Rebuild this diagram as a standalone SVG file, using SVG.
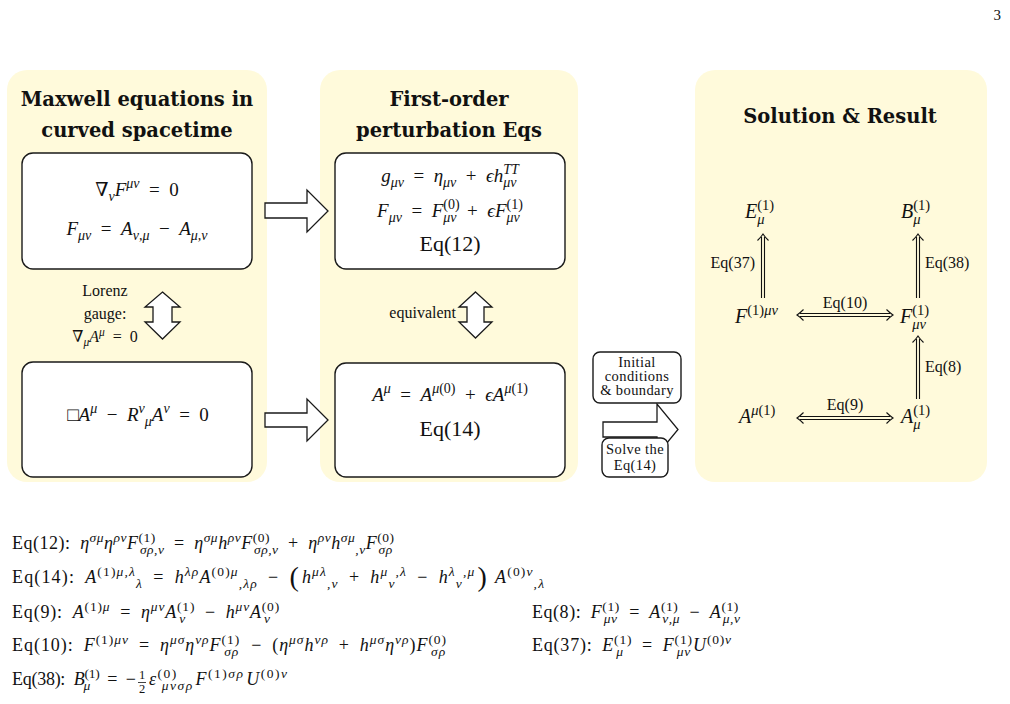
<svg xmlns="http://www.w3.org/2000/svg" width="1010" height="704" viewBox="0 0 1010 704">
<style>
.panel{fill:#fffadb;stroke:none}
.box{fill:#fff;stroke:#1a1a1a;stroke-width:1.4}
.blk{fill:#fff;stroke:#1a1a1a;stroke-width:1.3}
.title{font-family:"DejaVu Serif",serif;font-weight:bold;font-size:19.5px;fill:#111;text-anchor:middle}
.m{font-family:"Liberation Serif","DejaVu Serif",serif;font-size:19px;fill:#111}
.c{text-anchor:middle}
.i{font-style:italic}
.sp{font-size:14px;baseline-shift:8px}
.sb{font-size:14px;baseline-shift:-5px}
.eq{font-size:22px}
.lbl{font-family:"Liberation Serif","DejaVu Serif",serif;font-size:16px;fill:#111}
.n{font-family:"Liberation Serif","DejaVu Serif",serif;font-size:20px;fill:#111}
.sp2{font-size:14.5px;baseline-shift:8px}
.sb2{font-size:14.5px;baseline-shift:-5.5px}
.dl{stroke:#111;stroke-width:1.1;fill:none}
.small{font-family:"Liberation Serif","DejaVu Serif",serif;font-size:14.5px;letter-spacing:0.4px;fill:#111;text-anchor:middle}
.be{font-family:"Liberation Serif","DejaVu Serif",serif;font-size:18px;fill:#111}
.sp3{font-size:13.5px;baseline-shift:7.5px}
.sb3{font-size:13.5px;baseline-shift:-4.5px}
.fr{font-family:"Liberation Serif","DejaVu Serif",serif;font-size:12.5px;fill:#111;text-anchor:middle}
.big{font-size:28px;baseline-shift:-3px}
</style>
<defs>
<path id="hd" d="M-6.5,-5.5 Q-2.7,-1.7 0,0 Q-2.7,1.7 -6.5,5.5" class="dl"/>
</defs>
<rect width="1010" height="704" fill="#fff"/>
<text x="1001" y="20" class="lbl" text-anchor="end" style="font-size:15px">3</text>

<g id="panel-maxwell">
<rect class="panel" x="7" y="70" width="260" height="412" rx="20"/>
<text class="title" x="137" y="106">Maxwell equations in</text>
<text class="title" x="137" y="137">curved spacetime</text>
</g>
<g id="panel-perturbation">
<rect class="panel" x="320" y="70" width="258" height="412" rx="20"/>
<text class="title" x="449" y="106">First-order</text>
<text class="title" x="449" y="137">perturbation Eqs</text>
</g>
<g id="panel-solution">
<rect class="panel" x="695" y="70" width="292" height="412" rx="20"/>
<text class="title" x="840" y="123">Solution &amp; Result</text>
</g>

<g id="node-maxwell">
<rect class="box" x="22" y="153" width="230" height="116" rx="11"/>
<text class="m c" x="137" y="196">∇<tspan class="sb i">ν</tspan><tspan class="i">F</tspan><tspan class="sp i">μν</tspan>&#8194;=&#8194;0</text>
<text class="m c" x="137" y="235"><tspan class="i">F</tspan><tspan class="sb i">μν</tspan>&#8194;=&#8194;<tspan class="i">A</tspan><tspan class="sb i">ν,μ</tspan>&#8194;−&#8194;<tspan class="i">A</tspan><tspan class="sb i">μ,ν</tspan></text>
</g>
<g id="node-wave">
<rect class="box" x="22" y="362" width="230" height="115" rx="11"/>
<text class="m c" x="138" y="421">□<tspan class="i">A</tspan><tspan class="sp i">μ</tspan>&#8194;−&#8194;<tspan class="i">R</tspan><tspan class="sp i">ν</tspan><tspan class="sb i">μ</tspan><tspan class="i">A</tspan><tspan class="sp i">ν</tspan>&#8194;=&#8194;0</text>
</g>
<g id="node-pert">
<rect class="box" x="335" y="153" width="230" height="116" rx="11"/>
<text class="m c" x="450" y="182"><tspan class="i">g</tspan><tspan class="sb i">μν</tspan>&#8194;=&#8194;<tspan class="i">η</tspan><tspan class="sb i">μν</tspan>&#8194;+&#8194;<tspan class="i">ϵh</tspan><tspan class="sp i">TT</tspan><tspan class="sb i" dx="-15.5">μν</tspan></text>
<text class="m c" x="450" y="217"><tspan class="i">F</tspan><tspan class="sb i">μν</tspan>&#8194;=&#8194;<tspan class="i">F</tspan><tspan class="sp">(0)</tspan><tspan class="sb i" dx="-16.3">μν</tspan><tspan dx="1">&#8194;+&#8194;</tspan><tspan class="i">ϵF</tspan><tspan class="sp">(1)</tspan><tspan class="sb i" dx="-16.3">μν</tspan></text>
<text class="m c eq" x="450" y="251">Eq(12)</text>
</g>
<g id="node-expansion">
<rect class="box" x="335" y="363" width="230" height="114" rx="11"/>
<text class="m c" x="450" y="401"><tspan class="i">A</tspan><tspan class="sp i">μ</tspan>&#8194;=&#8194;<tspan class="i">A</tspan><tspan class="sp"><tspan class="i">μ</tspan>(0)</tspan>&#8194;+&#8194;<tspan class="i">ϵA</tspan><tspan class="sp"><tspan class="i">μ</tspan>(1)</tspan></text>
<text class="m c eq" x="450" y="436">Eq(14)</text>
</g>

<g id="connectors">
<polygon class="blk" points="265,203 307,203 307,190 328,211 307,232 307,218 265,218"/>
<polygon class="blk" points="265,413 307,413 307,399 328,420 307,441 307,427 265,427"/>
<polygon class="blk" points="162.5,292 180,307 172,307 172,322 180,322 162.5,339 145,322 153,322 153,307 145,307"/>
<polygon class="blk" points="475.5,292 492,307 484,307 484,322 492,322 475.5,338 459,322 467,322 467,307 459,307"/>
<polygon class="blk" points="603,422 657,422 657,404 678,429.5 657,455 657,437 603,437"/>
<path class="dl" d="M761.5,298V237M764.5,298V237"/>
<use href="#hd" transform="translate(763,234) rotate(-90)"/>
<path class="dl" d="M916.5,298V237M919.5,298V237"/>
<use href="#hd" transform="translate(918,234) rotate(-90)"/>
<path class="dl" d="M916.5,399V339M919.5,399V339"/>
<use href="#hd" transform="translate(918,336) rotate(-90)"/>
<path class="dl" d="M800,313.5H890M800,316.5H890"/>
<use href="#hd" transform="translate(893,315)"/>
<use href="#hd" transform="translate(797,315) rotate(180)"/>
<path class="dl" d="M800,416.5H890M800,419.5H890"/>
<use href="#hd" transform="translate(893,418)"/>
<use href="#hd" transform="translate(797,418) rotate(180)"/>
<text class="lbl c" x="105" y="296">Lorenz</text>
<text class="lbl c" x="105" y="319">gauge:</text>
<text class="lbl c" x="105" y="342">∇<tspan class="i" style="font-size:11.5px;baseline-shift:-4px">μ</tspan><tspan class="i">A</tspan><tspan class="i" style="font-size:11.5px;baseline-shift:6.5px">μ</tspan>&#8194;=&#8194;0</text>
<text class="lbl" x="456" y="318" text-anchor="end">equivalent</text>
<text class="lbl" x="755" y="268" text-anchor="end">Eq(37)</text>
<text class="lbl" x="925" y="268">Eq(38)</text>
<text class="lbl c" x="845" y="308">Eq(10)</text>
<text class="lbl" x="925" y="372">Eq(8)</text>
<text class="lbl c" x="845" y="410">Eq(9)</text>
</g>

<g id="node-initial">
<rect class="box" x="593" y="352" width="88" height="51" rx="7"/>
<text class="small" x="637" y="367">Initial</text>
<text class="small" x="637" y="381">conditions</text>
<text class="small" x="637" y="395">&amp; boundary</text>
</g>
<g id="node-solve">
<rect class="box" x="602" y="438" width="66" height="39" rx="7"/>
<text class="small" x="635" y="454">Solve the</text>
<text class="small" x="635" y="470">Eq(14)</text>
</g>

<g id="node-E"><text class="n" x="745" y="218"><tspan class="i">E</tspan><tspan class="sp2">(1)</tspan><tspan class="sb2 i" dx="-16.9">μ</tspan></text></g>
<g id="node-B"><text class="n" x="901" y="218"><tspan class="i">B</tspan><tspan class="sp2">(1)</tspan><tspan class="sb2 i" dx="-16.9">μ</tspan></text></g>
<g id="node-F-up"><text class="n" x="735" y="323"><tspan class="i">F</tspan><tspan class="sp2">(1)<tspan class="i">μν</tspan></tspan></text></g>
<g id="node-F-down"><text class="n" x="900" y="323"><tspan class="i">F</tspan><tspan class="sp2">(1)</tspan><tspan class="sb2 i" dx="-16.9">μν</tspan></text></g>
<g id="node-A-up"><text class="n" x="739" y="423"><tspan class="i">A</tspan><tspan class="sp2"><tspan class="i">μ</tspan>(1)</tspan></text></g>
<g id="node-A-down"><text class="n" x="901" y="423"><tspan class="i">A</tspan><tspan class="sp2">(1)</tspan><tspan class="sb2 i" dx="-16.9">μ</tspan></text></g>

<g id="equations">
<text class="be" x="12" y="549" textLength="383" lengthAdjust="spacing">Eq(12):&#8194;<tspan class="i">η</tspan><tspan class="sp3 i">σμ</tspan><tspan class="i">η</tspan><tspan class="sp3 i">ρν</tspan><tspan class="i">F</tspan><tspan class="sp3">(1)</tspan><tspan class="sb3 i" dx="-16">σρ,ν</tspan>&#8194;=&#8194;<tspan class="i">η</tspan><tspan class="sp3 i">σμ</tspan><tspan class="i">h</tspan><tspan class="sp3 i">ρν</tspan><tspan class="i">F</tspan><tspan class="sp3">(0)</tspan><tspan class="sb3 i" dx="-16">σρ,ν</tspan>&#8194;+&#8194;<tspan class="i">η</tspan><tspan class="sp3 i">ρν</tspan><tspan class="i">h</tspan><tspan class="sp3 i">σμ</tspan><tspan class="sb3 i">,ν</tspan><tspan class="i">F</tspan><tspan class="sp3">(0)</tspan><tspan class="sb3 i" dx="-16">σρ</tspan></text>
<text class="be" x="12" y="583" textLength="532" lengthAdjust="spacing">Eq(14):&#8194;<tspan class="i">A</tspan><tspan class="sp3">(1)<tspan class="i">μ,λ</tspan></tspan><tspan class="sb3 i">λ</tspan>&#8194;=&#8194;<tspan class="i">h</tspan><tspan class="sp3 i">λρ</tspan><tspan class="i">A</tspan><tspan class="sp3">(0)<tspan class="i">μ</tspan></tspan><tspan class="sb3 i">,λρ</tspan>&#8194;−&#8194;<tspan class="big">(</tspan><tspan class="i" dx="2">h</tspan><tspan class="sp3 i">μλ</tspan><tspan class="sb3 i">,ν</tspan>&#8194;+&#8194;<tspan class="i">h</tspan><tspan class="sp3 i">μ</tspan><tspan class="sb3 i">ν</tspan><tspan class="sp3 i">,λ</tspan>&#8194;−&#8194;<tspan class="i">h</tspan><tspan class="sp3 i">λ</tspan><tspan class="sb3 i">ν</tspan><tspan class="sp3 i">,μ</tspan><tspan class="big" dx="2">)</tspan>&#8196;<tspan class="i">A</tspan><tspan class="sp3">(0)<tspan class="i">ν</tspan></tspan><tspan class="sb3 i">,λ</tspan></text>
<text class="be" x="12" y="618" textLength="268" lengthAdjust="spacing">Eq(9):&#8194;<tspan class="i">A</tspan><tspan class="sp3">(1)<tspan class="i">μ</tspan></tspan>&#8194;=&#8194;<tspan class="i">η</tspan><tspan class="sp3 i">μν</tspan><tspan class="i">A</tspan><tspan class="sp3">(1)</tspan><tspan class="sb3 i" dx="-16">ν</tspan><tspan dx="9">&#8194;−&#8194;</tspan><tspan class="i">h</tspan><tspan class="sp3 i">μν</tspan><tspan class="i">A</tspan><tspan class="sp3">(0)</tspan><tspan class="sb3 i" dx="-16">ν</tspan></text>
<text class="be" x="12" y="651" textLength="436" lengthAdjust="spacing">Eq(10):&#8194;<tspan class="i">F</tspan><tspan class="sp3">(1)<tspan class="i">μν</tspan></tspan>&#8194;=&#8194;<tspan class="i">η</tspan><tspan class="sp3 i">μσ</tspan><tspan class="i">η</tspan><tspan class="sp3 i">νρ</tspan><tspan class="i">F</tspan><tspan class="sp3">(1)</tspan><tspan class="sb3 i" dx="-16">σρ</tspan><tspan dx="2">&#8194;−&#8194;(</tspan><tspan class="i">η</tspan><tspan class="sp3 i">μσ</tspan><tspan class="i">h</tspan><tspan class="sp3 i">νρ</tspan>&#8194;+&#8194;<tspan class="i">h</tspan><tspan class="sp3 i">μσ</tspan><tspan class="i">η</tspan><tspan class="sp3 i">νρ</tspan>)<tspan class="i">F</tspan><tspan class="sp3">(0)</tspan><tspan class="sb3 i" dx="-16">σρ</tspan></text>
<text class="be" x="12" y="685" textLength="124" lengthAdjust="spacing">Eq(38):&#8194;<tspan class="i">B</tspan><tspan class="sp3">(1)</tspan><tspan class="sb3 i" dx="-16">μ</tspan><tspan dx="8.5">&#8194;=&#8194;−</tspan></text>
<text class="fr" x="142" y="679">1</text>
<text class="fr" x="142" y="693">2</text>
<line x1="138" y1="682.5" x2="146" y2="682.5" stroke="#111" stroke-width="0.8"/>
<text class="be" x="149" y="685" textLength="138" lengthAdjust="spacing"><tspan class="i">ε</tspan><tspan class="sp3">(0)</tspan><tspan class="sb3 i" dx="-16">μνσρ</tspan><tspan class="i" dx="2">F</tspan><tspan class="sp3">(1)<tspan class="i">σρ</tspan></tspan><tspan class="i" dx="2">U</tspan><tspan class="sp3">(0)<tspan class="i">ν</tspan></tspan></text>
<text class="be" x="532" y="618" textLength="208" lengthAdjust="spacing">Eq(8):&#8194;<tspan class="i">F</tspan><tspan class="sp3">(1)</tspan><tspan class="sb3 i" dx="-16">μν</tspan><tspan dx="2">&#8194;=&#8194;</tspan><tspan class="i">A</tspan><tspan class="sp3">(1)</tspan><tspan class="sb3 i" dx="-16">ν,μ</tspan>&#8194;−&#8194;<tspan class="i">A</tspan><tspan class="sp3">(1)</tspan><tspan class="sb3 i" dx="-16">μ,ν</tspan></text>
<text class="be" x="532" y="651" textLength="199" lengthAdjust="spacing">Eq(37):&#8194;<tspan class="i">E</tspan><tspan class="sp3">(1)</tspan><tspan class="sb3 i" dx="-16">μ</tspan><tspan dx="8.5">&#8194;=&#8194;</tspan><tspan class="i">F</tspan><tspan class="sp3">(1)</tspan><tspan class="sb3 i" dx="-16">μν</tspan><tspan class="i" dx="2">U</tspan><tspan class="sp3">(0)<tspan class="i">ν</tspan></tspan></text>
</g>
</svg>
